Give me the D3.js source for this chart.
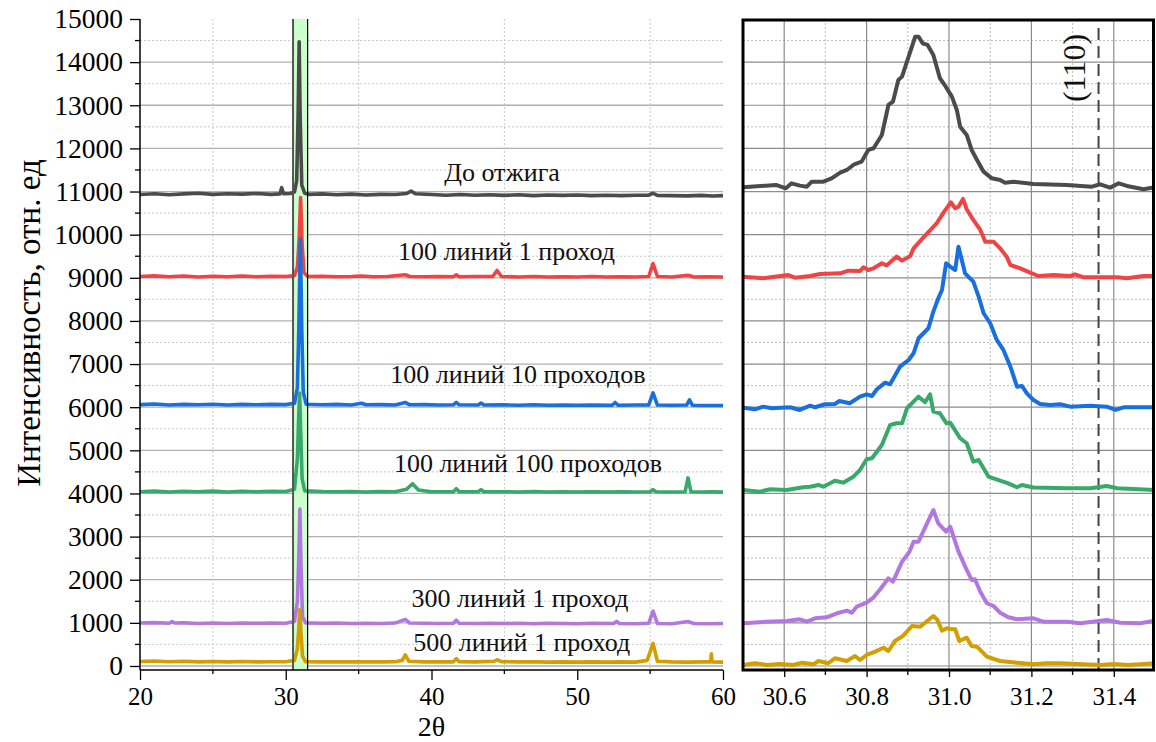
<!DOCTYPE html>
<html>
<head>
<meta charset="utf-8">
<script src="https://cdn.jsdelivr.net/npm/d3@7"></script>
<style>
html,body{margin:0;padding:0;background:#fff;}
svg{display:block;}
svg text{font-family:"Liberation Serif","Times New Roman",serif !important;}
</style>
</head>
<body>
<svg id="chart" width="1156" height="742"></svg>
<script>
// ---------------- DATA ----------------
const seriesNames = ["До отжига","100 линий 1 проход","100 линий 10 проходов","100 линий 100 проходов","300 линий 1 проход","500 линий 1 проход"];
const seriesColors = ["#4b4b4b","#f04444","#1a6fdf","#38a96a","#b277e0","#d29e00"];

const xTicksLeft = [20,30,40,50,60];
const xTicksRight = [30.6,30.8,31.0,31.2,31.4];
const yTicks = [0,1000,2000,3000,4000,5000,6000,7000,8000,9000,10000,11000,12000,13000,14000,15000];
const peakLabel = "(110)";
const peakPos = 31.363;
const bandRange = [30.5,31.5];

// full-range spectra (2θ, intensity)
const fullBlack = [[20,10930],[21,10950],[22,10925],[23,10945],[24,10960],[25,10935],[26,10950],[27,10940],[28,10955],[29,10935],[29.6,10945],[29.72,11090],[29.85,10950],[30.3,10955],[30.6,10990],[30.75,11250],[30.85,12800],[30.92,14470],[30.99,12700],[31.1,11150],[31.3,10960],[31.6,10935],[32.5,10945],[33.5,10925],[34.5,10940],[35.5,10920],[36.5,10935],[37.5,10930],[38.3,10955],[38.6,11010],[38.9,10950],[40,10930],[41,10915],[42,10930],[43,10915],[44,10925],[45,10910],[46,10925],[47,10905],[48,10920],[49,10910],[50,10920],[51,10905],[52,10915],[53,10905],[54,10915],[54.9,10915],[55.2,10960],[55.5,10910],[56.5,10905],[57.5,10900],[58.5,10910],[59.3,10895],[60,10905]];
const fullRed = [[20,9030],[21,9045],[22,9025],[23,9040],[24,9020],[25,9035],[26,9025],[27,9040],[28,9025],[29,9035],[30,9030],[30.6,9050],[30.8,9250],[30.92,9900],[31.02,10860],[31.12,9800],[31.25,9120],[31.5,9030],[32.5,9035],[33.5,9025],[34.5,9030],[35.2,9040],[36,9025],[37,9030],[38.2,9070],[38.5,9030],[39.5,9025],[40.5,9030],[41.5,9025],[41.7,9070],[41.9,9025],[43,9030],[44.2,9030],[44.5,9170],[44.8,9030],[46,9020],[47,9030],[48,9020],[49,9025],[50,9020],[51,9030],[52,9020],[53,9025],[54,9020],[54.9,9030],[55.2,9330],[55.5,9030],[56.5,9020],[57.6,9060],[58,9020],[59,9025],[60,9020]];
const fullBlue = [[20,6060],[21,6075],[22,6050],[23,6065],[24,6055],[25,6070],[26,6050],[27,6065],[28,6055],[29,6065],[30,6060],[30.6,6090],[30.8,6450],[30.9,7900],[31.0,9900],[31.1,7800],[31.2,6350],[31.4,6070],[32.5,6055],[33.5,6065],[34.5,6050],[35.2,6090],[35.5,6055],[36.5,6060],[37.5,6050],[38.2,6110],[38.5,6055],[39.5,6060],[40.5,6050],[41.5,6055],[41.7,6110],[41.9,6055],[43.2,6050],[43.4,6095],[43.6,6050],[45,6055],[46,6045],[47,6055],[48,6045],[49,6050],[50,6045],[51,6050],[52.4,6045],[52.6,6110],[52.8,6045],[54,6050],[54.9,6050],[55.2,6330],[55.5,6050],[56.5,6045],[57.5,6050],[57.7,6170],[57.9,6045],[59,6040],[60,6040]];
const fullGreen = [[20,4040],[21,4055],[22,4035],[23,4050],[24,4040],[25,4055],[26,4035],[27,4050],[28,4040],[29,4050],[30,4045],[30.6,4100],[30.8,4800],[30.88,5700],[30.95,6330],[31.03,5400],[31.12,4350],[31.3,4060],[32.5,4045],[33.5,4040],[34.5,4045],[35.5,4035],[36.5,4045],[37.5,4040],[38.3,4100],[38.7,4225],[39.1,4080],[40,4040],[41.5,4040],[41.7,4110],[41.9,4040],[43.2,4040],[43.4,4090],[43.6,4040],[45,4040],[46,4035],[47,4045],[48,4035],[49,4040],[50,4035],[51,4040],[52,4035],[53,4040],[54,4035],[55,4040],[55.2,4090],[55.4,4040],[56.5,4035],[57.4,4040],[57.6,4360],[57.8,4040],[58.5,4035],[59.3,4040],[60,4030]];
const fullPurple = [[20,995],[21,1005],[22,990],[22.2,1030],[22.4,995],[23,1000],[24,985],[25,995],[26,985],[27,995],[28,990],[29,995],[30,990],[30.6,1030],[30.8,1500],[30.9,2600],[30.97,3640],[31.05,2300],[31.15,1150],[31.35,1000],[32.5,990],[33.5,995],[34.5,985],[35.5,990],[36.5,985],[37.5,995],[38.2,1080],[38.5,995],[39.5,990],[40.5,985],[41.5,990],[41.7,1060],[41.9,990],[43,985],[44,990],[45,985],[46,990],[47,980],[48,990],[49,985],[50,980],[51,990],[52.5,985],[52.7,1035],[52.9,985],[54,980],[54.9,990],[55.2,1270],[55.5,985],[56.5,980],[57.6,1030],[58,985],[59,980],[60,985]];
const fullOrange = [[20,105],[21,115],[22,100],[23,110],[24,95],[25,105],[26,95],[27,105],[28,95],[29,100],[30,100],[30.6,130],[30.8,400],[30.9,900],[30.96,1300],[31.04,800],[31.15,230],[31.35,100],[32.5,95],[33.5,100],[34.5,95],[35.5,100],[36.5,95],[37.5,100],[38.0,130],[38.2,260],[38.45,110],[39.5,95],[40.5,100],[41.5,95],[41.7,170],[41.9,100],[43,95],[44.3,110],[44.5,145],[44.8,100],[46,95],[47,100],[48,90],[49,95],[50,90],[51,95],[52,90],[53,95],[54,90],[54.8,130],[55.2,525],[55.5,110],[56.5,95],[57.5,90],[58.5,95],[59.15,95],[59.2,285],[59.25,95],[60,90]];

// zoomed region 30.5–31.5 (2θ, intensity)
const zoomBlack = [[30.5,11099],[30.58,11152],[30.604,11075],[30.618,11190],[30.638,11137],[30.655,11113],[30.667,11229],[30.695,11229],[30.715,11306],[30.736,11438],[30.752,11500],[30.770,11632],[30.788,11693],[30.804,11964],[30.817,12003],[30.837,12311],[30.853,13007],[30.864,13084],[30.877,13587],[30.886,13664],[30.902,14128],[30.918,14591],[30.926,14591],[30.936,14437],[30.948,14398],[30.962,14166],[30.978,13626],[30.991,13448],[31.007,13200],[31.019,12891],[31.027,12504],[31.043,12311],[31.055,11964],[31.068,11732],[31.084,11461],[31.104,11306],[31.124,11268],[31.136,11206],[31.157,11229],[31.205,11175],[31.286,11152],[31.347,11113],[31.367,11168],[31.391,11090],[31.412,11190],[31.432,11129],[31.472,11052],[31.5,11099]];
const zoomRed = [[30.5,9027],[30.549,8988],[30.61,9065],[30.626,9003],[30.663,9042],[30.687,9089],[30.736,9104],[30.756,9166],[30.784,9158],[30.792,9243],[30.804,9181],[30.817,9220],[30.837,9336],[30.849,9290],[30.873,9491],[30.886,9398],[30.906,9506],[30.914,9684],[30.938,9939],[30.97,10263],[30.99,10556],[31.005,10751],[31.015,10612],[31.023,10649],[31.034,10828],[31.043,10589],[31.059,10341],[31.076,10109],[31.088,9838],[31.108,9838],[31.124,9684],[31.14,9491],[31.149,9297],[31.173,9220],[31.197,9119],[31.217,9042],[31.254,9065],[31.294,9042],[31.306,9081],[31.327,9011],[31.408,9011],[31.432,8988],[31.472,9042],[31.5,9042]];
const zoomBlue = [[30.5,5989],[30.529,5951],[30.549,6013],[30.57,5974],[30.614,5998],[30.638,5936],[30.663,6036],[30.675,5998],[30.699,6068],[30.723,6075],[30.734,6144],[30.759,6091],[30.784,6244],[30.8,6299],[30.813,6260],[30.825,6415],[30.845,6569],[30.857,6531],[30.881,6940],[30.902,7095],[30.914,7250],[30.926,7598],[30.95,7830],[30.962,8215],[30.974,8526],[30.983,8718],[30.993,9336],[31.003,9259],[31.015,9181],[31.023,9722],[31.039,9104],[31.059,8911],[31.072,8563],[31.084,8178],[31.1,7946],[31.116,7559],[31.132,7327],[31.149,6940],[31.165,6476],[31.177,6492],[31.189,6322],[31.205,6167],[31.221,6075],[31.246,6052],[31.27,6068],[31.294,6013],[31.343,6036],[31.383,6013],[31.404,5936],[31.424,5998],[31.5,5998]];
const zoomGreen = [[30.5,4081],[30.541,4042],[30.566,4097],[30.606,4081],[30.646,4143],[30.663,4157],[30.683,4197],[30.695,4157],[30.723,4296],[30.743,4250],[30.768,4389],[30.784,4544],[30.8,4792],[30.813,4815],[30.837,5124],[30.857,5588],[30.873,5627],[30.886,5627],[30.898,5975],[30.926,6244],[30.942,6114],[30.954,6299],[30.962,5896],[30.978,5859],[30.994,5627],[31.003,5642],[31.027,5280],[31.043,5164],[31.059,4738],[31.072,4776],[31.096,4389],[31.124,4296],[31.144,4235],[31.165,4143],[31.177,4197],[31.205,4140],[31.286,4120],[31.343,4120],[31.383,4173],[31.408,4120],[31.5,4081]];
const zoomPurple = [[30.5,990],[30.558,1027],[30.606,1043],[30.638,1083],[30.655,1027],[30.675,1105],[30.703,1129],[30.728,1222],[30.752,1283],[30.764,1236],[30.776,1375],[30.8,1468],[30.817,1592],[30.833,1778],[30.853,2033],[30.864,1955],[30.886,2418],[30.904,2650],[30.914,2882],[30.926,2882],[30.962,3617],[30.974,3309],[30.993,3115],[31.003,3230],[31.023,2650],[31.043,2226],[31.055,1994],[31.063,2010],[31.076,1723],[31.092,1454],[31.108,1391],[31.124,1236],[31.144,1129],[31.165,1083],[31.205,1105],[31.229,1027],[31.286,1027],[31.319,990],[31.383,1067],[31.416,1004],[31.464,990],[31.5,1051]];
const zoomOrange = [[30.5,23],[30.529,63],[30.558,23],[30.59,46],[30.622,23],[30.643,77],[30.671,39],[30.683,116],[30.707,63],[30.723,178],[30.752,116],[30.772,232],[30.784,139],[30.8,255],[30.821,332],[30.841,424],[30.853,348],[30.869,580],[30.889,703],[30.91,927],[30.93,911],[30.962,1159],[30.972,1066],[30.983,818],[30.994,874],[31.007,851],[31.015,851],[31.025,580],[31.043,656],[31.055,464],[31.068,448],[31.092,216],[31.124,116],[31.165,77],[31.205,39],[31.238,63],[31.27,63],[31.367,23],[31.4,46],[31.432,23],[31.464,39],[31.5,63]];

const fullSeries = [fullBlack,fullRed,fullBlue,fullGreen,fullPurple,fullOrange];
const zoomSeries = [zoomBlack,zoomRed,zoomBlue,zoomGreen,zoomPurple,zoomOrange];
// label anchors in data coordinates (2θ, intensity)
const labelAnchors = [[44.84,11251],[45.15,9412],[45.93,6554],[46.62,4504],[46.07,1375],[46.19,354]];

// ---------------- LAYOUT ----------------
const FONT = '"Liberation Serif", "Times New Roman", serif';
const svg = d3.select("#chart");
const xL = d3.scaleLinear().domain([20,60]).range([140,723]);
const xR = d3.scaleLinear().domain([30.5,31.5]).range([743,1155]);
const y = d3.scaleLinear().domain([-93,15000]).range([670,19]);

const minorY = d3.range(500,15000,1000);
const majorYGrid = d3.range(0,15000,1000);

// ---- Left panel grid ----
const gL = svg.append("g");
gL.selectAll(".hm").data(minorY).join("line")
  .attr("x1",xL(20)).attr("x2",xL(60)).attr("y1",d=>y(d)).attr("y2",d=>y(d))
  .attr("stroke","#c8c8c8").attr("stroke-width",1).attr("stroke-dasharray","2,2");
gL.selectAll(".hM").data(majorYGrid).join("line")
  .attr("x1",xL(20)).attr("x2",xL(60)).attr("y1",d=>y(d)).attr("y2",d=>y(d))
  .attr("stroke","#b0b0b0").attr("stroke-width",1.3);
gL.selectAll(".vm").data([25,35,45,55]).join("line")
  .attr("x1",d=>xL(d)).attr("x2",d=>xL(d)).attr("y1",y(15000)).attr("y2",y(-93))
  .attr("stroke","#c8c8c8").attr("stroke-width",1).attr("stroke-dasharray","2,2");

// band
gL.append("rect").attr("x",xL(bandRange[0])).attr("y",y(15000))
  .attr("width",xL(bandRange[1])-xL(bandRange[0])).attr("height",y(-93)-y(15000))
  .attr("fill","#ccffcc");

// lines left
const lineL = d3.line().x(d=>xL(d[0])).y(d=>y(d[1]));
const clipL = svg.append("clipPath").attr("id","clipL");
clipL.append("rect").attr("x",xL(20)).attr("y",0).attr("width",xL(60)-xL(20)).attr("height",y(-93));
const gLines = svg.append("g").attr("clip-path","url(#clipL)");
fullSeries.forEach((s,i)=>{
  gLines.append("path").datum(s).attr("d",lineL).attr("fill","none")
    .attr("stroke",seriesColors[i]).attr("stroke-width",3.6).attr("stroke-linejoin","round");
});
// band edges
svg.append("line").attr("x1",xL(bandRange[0])).attr("x2",xL(bandRange[0])).attr("y1",y(15000)).attr("y2",y(-93))
  .attr("stroke","#555").attr("stroke-width",2);
svg.append("line").attr("x1",xL(bandRange[1])).attr("x2",xL(bandRange[1])).attr("y1",y(15000)).attr("y2",y(-93))
  .attr("stroke","#000").attr("stroke-width",1.2);

// axes left
const yAxis = d3.axisLeft(y).tickValues(yTicks).tickSize(10).tickPadding(7).tickFormat(d3.format("d"));
const gy = svg.append("g").attr("transform",`translate(${xL(20)},0)`).call(yAxis).attr("font-family",null);
gy.select(".domain").attr("stroke","#000").attr("stroke-width",1.5).attr("d",`M0,${y(15000)}V${y(-93)}`);
gy.selectAll(".tick line").attr("stroke","#000").attr("stroke-width",1.3);
gy.selectAll(".tick text").attr("font-size",27.5).style("font-family",FONT).attr("fill","#000");
svg.append("g").attr("transform",`translate(${xL(20)},0)`)
  .selectAll("line").data(minorY).join("line")
  .attr("x1",-5).attr("x2",0).attr("y1",d=>y(d)).attr("y2",d=>y(d)).attr("stroke","#000").attr("stroke-width",1.3);

const xAxisL = d3.axisBottom(xL).tickValues(xTicksLeft).tickSize(10).tickPadding(7).tickFormat(d3.format("d"));
const gx = svg.append("g").attr("transform",`translate(0,${y(-93)})`).call(xAxisL).attr("font-family",null);
gx.select(".domain").attr("stroke","#000").attr("stroke-width",1.5).attr("d",`M${xL(20)},0H${xL(60)}`);
gx.selectAll(".tick line").attr("stroke","#000").attr("stroke-width",1.3);
gx.selectAll(".tick text").attr("font-size",25).style("font-family",FONT).attr("fill","#000");
svg.append("g").attr("transform",`translate(0,${y(-93)})`)
  .selectAll("line").data([25,35,45,55]).join("line")
  .attr("x1",d=>xL(d)).attr("x2",d=>xL(d)).attr("y1",0).attr("y2",4).attr("stroke","#000").attr("stroke-width",1.3);

// series labels
svg.append("g").selectAll("text").data(seriesNames).join("text")
  .attr("x",(d,i)=>xL(labelAnchors[i][0])).attr("y",(d,i)=>y(labelAnchors[i][1]))
  .attr("text-anchor","middle").attr("font-size",26).style("font-family",FONT).attr("fill","#111").text(d=>d);

// axis titles
svg.append("text").attr("x",xL(40)).attr("y",735.5).attr("text-anchor","middle")
  .attr("font-size",28).style("font-family",FONT).attr("fill","#000").text("2θ");
svg.append("text").attr("transform",`translate(40,323) rotate(-90)`)
  .attr("text-anchor","middle").attr("font-size",33).style("font-family",FONT).attr("fill","#000").text("Интенсивность, отн. ед");

// ---- Right panel ----
const gR = svg.append("g");
gR.append("rect").attr("x",xR(30.5)).attr("y",y(15000)).attr("width",xR(31.5)-xR(30.5)).attr("height",y(-93)-y(15000)).attr("fill","#fff");
gR.selectAll(".rhm").data(minorY).join("line")
  .attr("x1",xR(30.5)).attr("x2",xR(31.5)).attr("y1",d=>y(d)).attr("y2",d=>y(d))
  .attr("stroke","#bdbdbd").attr("stroke-width",1).attr("stroke-dasharray","2,2");
gR.selectAll(".rvm").data([30.7,30.9,31.1,31.3]).join("line")
  .attr("x1",d=>xR(d)).attr("x2",d=>xR(d)).attr("y1",y(15000)).attr("y2",y(-93))
  .attr("stroke","#bdbdbd").attr("stroke-width",1).attr("stroke-dasharray","2,2");
gR.selectAll(".rhM").data(majorYGrid).join("line")
  .attr("x1",xR(30.5)).attr("x2",xR(31.5)).attr("y1",d=>y(d)).attr("y2",d=>y(d))
  .attr("stroke","#8c8c8c").attr("stroke-width",1.2);
gR.selectAll(".rvM").data(xTicksRight).join("line")
  .attr("x1",d=>xR(d)).attr("x2",d=>xR(d)).attr("y1",y(15000)).attr("y2",y(-93))
  .attr("stroke","#8c8c8c").attr("stroke-width",1.2);

// dashed (110) line
gR.append("line").attr("x1",xR(peakPos)).attr("x2",xR(peakPos)).attr("y1",28).attr("y2",y(-93))
  .attr("stroke","#444").attr("stroke-width",2).attr("stroke-dasharray","12,6");
gR.append("text").attr("transform",`translate(${xR(peakPos)-14},68) rotate(-90)`)
  .attr("text-anchor","middle").attr("font-size",32).style("font-family",FONT).attr("fill","#111").text(peakLabel);

const clipR = svg.append("clipPath").attr("id","clipR");
clipR.append("rect").attr("x",xR(30.5)).attr("y",y(15000)).attr("width",xR(31.5)-xR(30.5)).attr("height",y(-93)-y(15000));
const lineR = d3.line().x(d=>xR(d[0])).y(d=>y(d[1]));
const gRL = svg.append("g").attr("clip-path","url(#clipR)");
zoomSeries.forEach((s,i)=>{
  gRL.append("path").datum(s).attr("d",lineR).attr("fill","none")
    .attr("stroke",seriesColors[i]).attr("stroke-width",4).attr("stroke-linejoin","round");
});

// frame
svg.append("rect").attr("x",xR(30.5)).attr("y",y(15000)+1).attr("width",xR(31.5)-xR(30.5)-1.5).attr("height",y(-93)-y(15000)-1)
  .attr("fill","none").attr("stroke","#000").attr("stroke-width",3);

const xAxisR = d3.axisBottom(xR).tickValues(xTicksRight).tickSize(6).tickPadding(10).tickFormat(d3.format(".1f"));
const gxr = svg.append("g").attr("transform",`translate(0,${y(-93)+1})`).call(xAxisR).attr("font-family",null);
gxr.select(".domain").remove();
gxr.selectAll(".tick line").attr("stroke","#000").attr("stroke-width",1.3);
gxr.selectAll(".tick text").attr("font-size",25).style("font-family",FONT).attr("fill","#000");
svg.append("g").attr("transform",`translate(0,${y(-93)+1})`)
  .selectAll("line").data([30.7,30.9,31.1,31.3]).join("line")
  .attr("x1",d=>xR(d)).attr("x2",d=>xR(d)).attr("y1",0).attr("y2",4).attr("stroke","#000").attr("stroke-width",1.3);
</script>
</body>
</html>
